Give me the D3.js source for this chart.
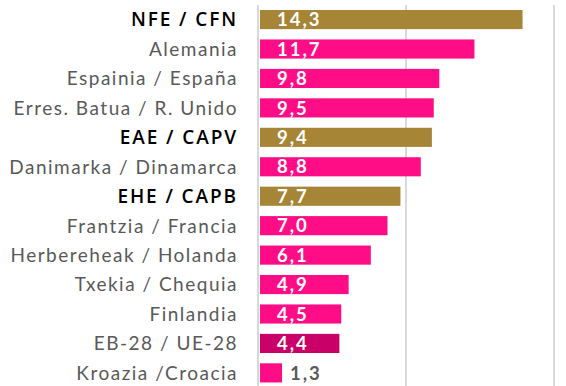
<!DOCTYPE html>
<html>
<head>
<meta charset="utf-8">
<script src="https://cdn.jsdelivr.net/npm/d3@7"></script>
<style>
  html, body { margin: 0; padding: 0; background: #fff; }
  svg { display: block; }
</style>
</head>
<body>
<svg id="chart" width="566" height="386"></svg>
<script>
// Categories, top to bottom
const categories = [
  "NFE / CFN", "Alemania", "Espainia / España", "Erres. Batua / R. Unido",
  "EAE / CAPV", "Danimarka / Dinamarca", "EHE / CAPB", "Frantzia / Francia",
  "Herbereheak / Holanda", "Txekia / Chequia", "Finlandia", "EB-28 / UE-28",
  "Kroazia /Croacia"
];
const values = [14.3, 11.7, 9.8, 9.5, 9.4, 8.8, 7.7, 7.0, 6.1, 4.9, 4.5, 4.4, 1.3];
// Group of each row: regional aggregates, countries, EU average
const groups = ["region", "country", "country", "country", "region", "country", "region",
                "country", "country", "country", "country", "eu", "country"];
const gridTicks = [0, 8, 16];

const colors = { region: "#A68537", country: "#FF0D86", eu: "#C80068" };

const svg = d3.select("#chart");
const x = d3.scaleLinear().domain([0, 16]).range([258, 554]);
const y = d3.scaleBand().domain(categories).range([4.85, 387.6])
  .paddingInner(0.35).paddingOuter(0.175);

// vertical gridlines
svg.append("g").selectAll("line").data(gridTicks).join("line")
  .attr("x1", d => x(d)).attr("x2", d => x(d))
  .attr("y1", 5).attr("y2", 386)
  .attr("stroke", "#d9d9d9").attr("stroke-width", 2);

const fmt = v => v.toFixed(1).replace(".", ",");

// bars
svg.append("g").selectAll("rect").data(values).join("rect")
  .attr("x", x(0) + 2)
  .attr("y", (d, i) => y(categories[i]))
  .attr("width", d => x(d) - x(0) - 2)
  .attr("height", y.bandwidth())
  .attr("fill", (d, i) => colors[groups[i]]);

// value labels: inside for long bars, outside for short ones
svg.append("g").selectAll("text").data(values).join("text")
  .attr("x", d => x(d) - x(0) > 40 ? 277 : x(d) + 8)
  .attr("y", (d, i) => y(categories[i]) + y.bandwidth() / 2)
  .attr("dy", "0.36em")
  .attr("font-family", "Lato, 'Open Sans', sans-serif")
  .attr("font-weight", 700)
  .attr("font-size", 18.5)
  .attr("letter-spacing", 2)
  .attr("fill", d => x(d) - x(0) > 40 ? "#fff" : "#595959")
  .text(fmt);

// category labels
svg.append("g").selectAll("text").data(categories).join("text")
  .attr("x", 238)
  .attr("y", d => y(d) + y.bandwidth() / 2)
  .attr("dy", "0.36em")
  .attr("text-anchor", "end")
  .attr("font-family", (d, i) => groups[i] === "region" ? "'Open Sans', sans-serif" : "Lato, sans-serif")
  .attr("font-weight", (d, i) => groups[i] === "region" ? 600 : 400)
  .attr("font-size", 19)
  .attr("letter-spacing", (d, i) => groups[i] === "region" ? 1.9 : 1.5)
  .attr("fill", (d, i) => groups[i] === "region" ? "#000" : "#595959")
  .text(d => d);
</script>
</body>
</html>
